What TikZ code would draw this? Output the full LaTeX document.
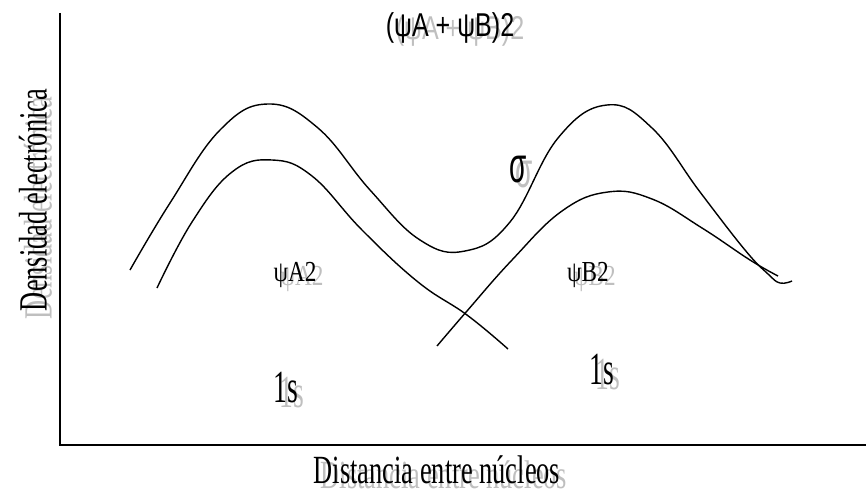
\documentclass[tikz,border=0pt]{standalone}
\usepackage{fontspec}
\setmainfont{Liberation Serif}
\newfontfamily\arialfont{Liberation Sans}
\usepackage{tikz}
\usetikzlibrary{
    positioning
}
\tikzset{
    eje/.style={
        line width=1.8pt
    },
    curva/.style={
        line width=1.4pt,
        smooth,
        tension=0.7
    },
    rotulo/.style={
        inner sep=0pt,
        font=\fontsize{40}{42}\selectfont,
        xscale=0.66
    },
    etiqueta/.style={
        inner sep=0pt,
        font=\fontsize{29}{32}\selectfont,
        xscale=0.8
    },
    orbital/.style={
        inner sep=0pt,
        font=\fontsize{46}{48}\selectfont,
        xscale=0.6
    },
    sombra/.style={
        text=black!25
    }
}

\begin{document}
\begin{tikzpicture}[
    x=1pt,
    y=-1pt
]

    \useasboundingbox (0,0) rectangle (867,503);

    % Ejes
    \coordinate (ytop)   at (60,13);
    \coordinate (origen) at (60,445);
    \coordinate (xfin)   at (866,445);
    \draw[eje] (ytop) -- (origen) -- (xfin);

    % (psiA + psiB)^2
    \draw[curva] plot coordinates {
        (130,270) (170,203) (220,130) (268,104) (318,128)
        (370,190) (420,240) (465,251) (510,222) (558,138)
        (607,105) (652,128) (700,192) (745,250) (768,274)
        (780,283) (792,281)
    };

    % psiA^2
    \draw[curva] plot coordinates {
        (157,288) (192,222) (232,172) (272,160) (312,176)
        (362,230) (418,282) (467,315) (508,349)
    };

    % psiB^2
    \draw[curva] plot coordinates {
        (437,346) (467,311) (512,260) (562,211) (608,192)
        (652,199) (702,228) (750,260) (778,276)
    };

    % Rotulos de los ejes
    \node[rotate=90, rotulo, sombra] (yrotg) at (38,208) {Densidad electrónica};
    \node[rotate=90, rotulo]         (yrot)  at (33,200) {Densidad electrónica};
    \node[rotulo, sombra] (xrotg) at (444,475) {Distancia entre núcleos};
    \node[rotulo]         (xrot)  at (437,470) {Distancia entre núcleos};

    % Etiquetas
    \node[etiqueta, sombra, font=\arialfont\fontsize{33}{36}\selectfont, xscale=0.95]
        (sumag) at (460,31) {(ψA + ψB)2};
    \node[etiqueta, font=\arialfont\fontsize{33}{36}\selectfont, xscale=0.95]
        (suma)  at (450,28) {(ψA + ψB)2};
    \node[etiqueta, sombra, font=\arialfont\fontsize{50}{52}\selectfont, xscale=0.7]
        (sigmag) at (524,175) {σ};
    \node[etiqueta, font=\arialfont\fontsize{50}{52}\selectfont, xscale=0.7]
        (sigma)  at (518,170) {σ};

    \node[etiqueta, sombra] (psiAg) at (302,279) {ψA2};
    \node[etiqueta]         (psiA)  at (295,275) {ψA2};
    \node[etiqueta, sombra] (psiBg) at (595,279) {ψB2};
    \node[etiqueta]         (psiB)  at (588,275) {ψB2};

    \node[orbital, sombra] (unoAg) at (292,393) {1s};
    \node[orbital]         (unoA)  at (286,388) {1s};
    \node[orbital, sombra] (unoBg) at (608,375) {1s};
    \node[orbital]         (unoB)  at (602,370) {1s};

\end{tikzpicture}
\end{document}
